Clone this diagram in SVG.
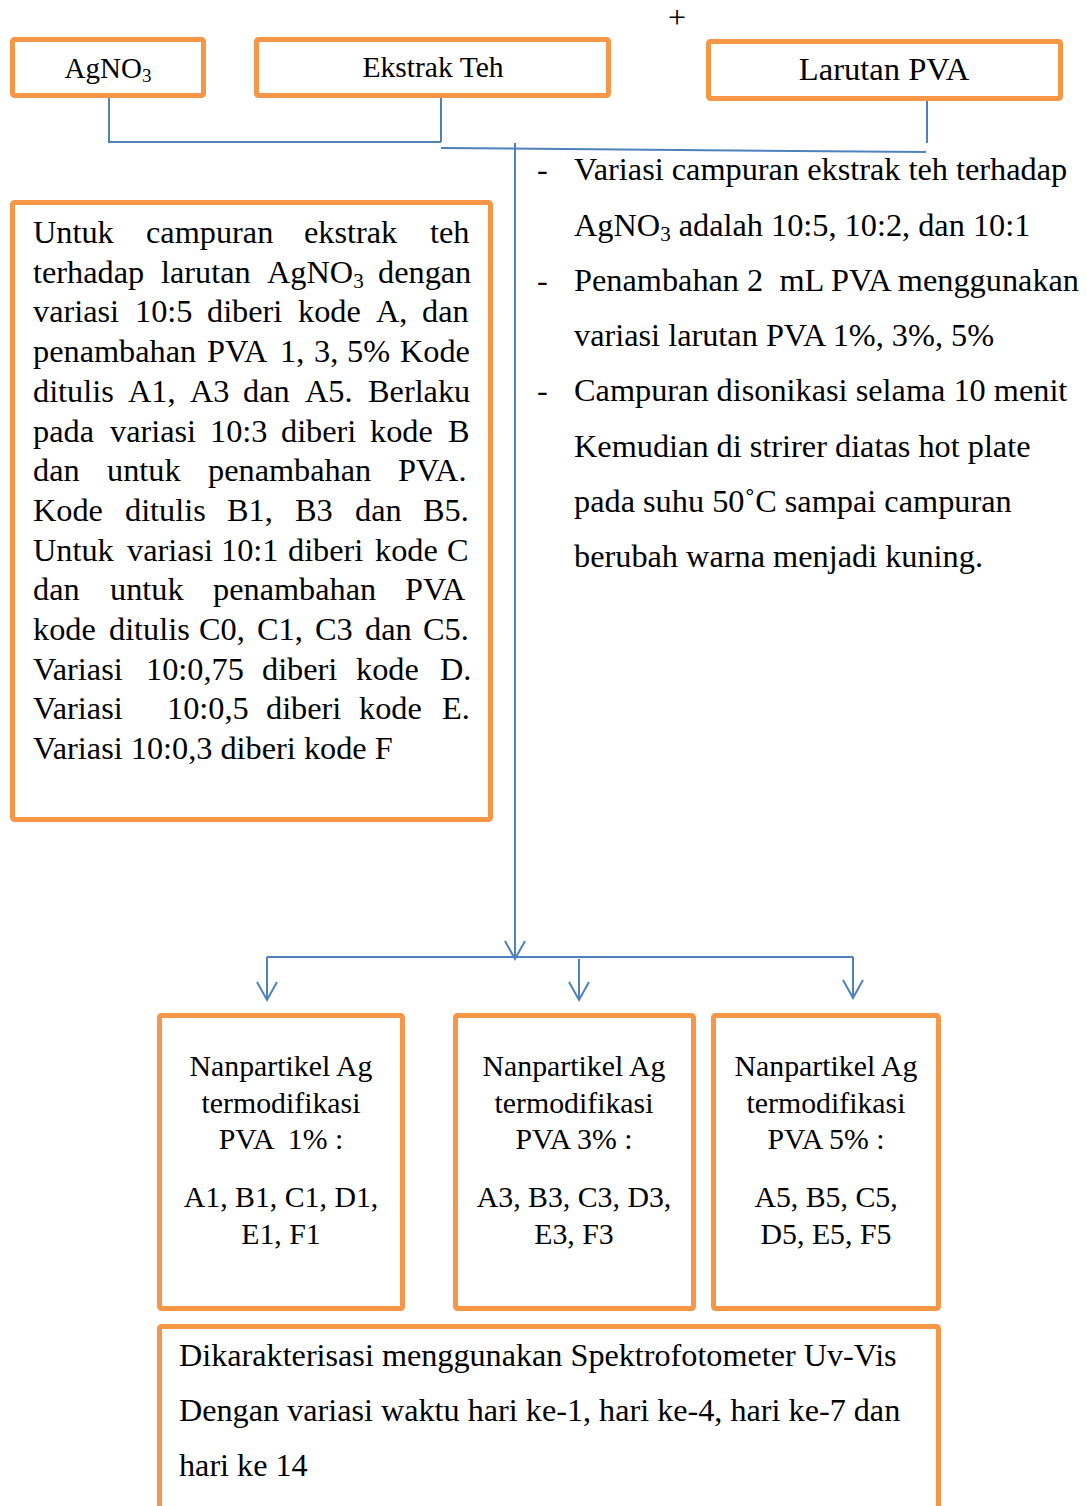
<svg xmlns="http://www.w3.org/2000/svg" width="1087" height="1506" viewBox="0 0 1087 1506">
<style>
.box{fill:#fff;stroke:#F79646;stroke-width:5;}
.t{font-family:"Liberation Serif","Times New Roman",serif;fill:#000;}
.c{text-anchor:middle;}
.ln{fill:none;stroke:#4F81BD;stroke-width:2;}
.ah{fill:none;stroke:#4F81BD;stroke-width:2;}
</style>
<rect width="1087" height="1506" fill="#fff"/>
<text class="t" x="677" y="28" font-size="32" text-anchor="middle">+</text>

<g id="connectors">
<polyline class="ln" points="109,97 109,142 441,142"/>
<line class="ln" x1="441" y1="97" x2="441" y2="142"/>
<line class="ln" x1="441" y1="148" x2="926" y2="152"/>
<line class="ln" x1="927" y1="100" x2="927" y2="143"/>
<line class="ln" x1="515" y1="143" x2="515" y2="958"/>
<path class="ah" d="M505,941 L515,959 L525,941"/>
<line class="ln" x1="267" y1="957" x2="853" y2="957"/>
<line class="ln" x1="267" y1="957" x2="267" y2="1000"/>
<path class="ah" d="M257,982 L267,1000 L277,982"/>
<line class="ln" x1="579" y1="959" x2="579" y2="1000"/>
<path class="ah" d="M569,982 L579,1000 L589,982"/>
<line class="ln" x1="853" y1="957" x2="853" y2="998"/>
<path class="ah" d="M843,980 L853,998 L863,980"/>
</g>

<g id="agno3">
<rect class="box" x="12.5" y="39.5" width="191" height="56" rx="2"/>
<text class="t c" x="108" y="78" font-size="29">AgNO<tspan font-size="19" dy="4">3</tspan></text>
</g>
<g id="ekstrak-teh">
<rect class="box" x="256.5" y="39.5" width="352" height="56" rx="2"/>
<text class="t c" x="433" y="77" font-size="29.6">Ekstrak Teh</text>
</g>
<g id="larutan-pva">
<rect class="box" x="708.5" y="41.5" width="352" height="57" rx="2"/>
<text class="t c" x="884" y="80" font-size="32.6">Larutan PVA</text>
</g>

<g id="keterangan">
<rect class="box" x="12.5" y="202.5" width="478" height="617" rx="2"/>
<text class="t" font-size="32.3">
<tspan y="243" x="33">Untuk</tspan><tspan x="146">campuran</tspan><tspan x="304">ekstrak</tspan><tspan x="430">teh</tspan>
<tspan y="282.7" x="33">terhadap</tspan><tspan x="161">larutan</tspan><tspan x="267">AgNO</tspan><tspan font-size="21" dy="5">3</tspan><tspan x="378" dy="-5">dengan</tspan>
<tspan y="322.4" x="33">variasi</tspan><tspan x="135">10:5</tspan><tspan x="207">diberi</tspan><tspan x="298">kode</tspan><tspan x="376">A,</tspan><tspan x="422">dan</tspan>
<tspan y="362.1" x="33">penambahan</tspan><tspan x="207">PVA</tspan><tspan x="280">1,</tspan><tspan x="314">3,</tspan><tspan x="347">5%</tspan><tspan x="400">Kode</tspan>
<tspan y="401.8" x="33">ditulis</tspan><tspan x="128">A1,</tspan><tspan x="190">A3</tspan><tspan x="243">dan</tspan><tspan x="305">A5.</tspan><tspan x="368">Berlaku</tspan>
<tspan y="441.5" x="33">pada</tspan><tspan x="110">variasi</tspan><tspan x="210">10:3</tspan><tspan x="281">diberi</tspan><tspan x="370">kode</tspan><tspan x="448">B</tspan>
<tspan y="481.2" x="33">dan</tspan><tspan x="107">untuk</tspan><tspan x="208">penambahan</tspan><tspan x="398">PVA.</tspan>
<tspan y="520.9" x="33">Kode</tspan><tspan x="125">ditulis</tspan><tspan x="227">B1,</tspan><tspan x="295">B3</tspan><tspan x="355">dan</tspan><tspan x="423">B5.</tspan>
<tspan y="560.6" x="33">Untuk</tspan><tspan x="127">variasi</tspan><tspan x="221">10:1</tspan><tspan x="288">diberi</tspan><tspan x="375">kode</tspan><tspan x="447">C</tspan>
<tspan y="600.3" x="33">dan</tspan><tspan x="110">untuk</tspan><tspan x="213">penambahan</tspan><tspan x="405">PVA</tspan>
<tspan y="640" x="33">kode</tspan><tspan x="109">ditulis</tspan><tspan x="199">C0,</tspan><tspan x="257">C1,</tspan><tspan x="315">C3</tspan><tspan x="365">dan</tspan><tspan x="423">C5.</tspan>
<tspan y="679.7" x="33">Variasi</tspan><tspan x="146">10:0,75</tspan><tspan x="262">diberi</tspan><tspan x="356">kode</tspan><tspan x="440">D.</tspan>
<tspan y="719.4" x="33">Variasi</tspan><tspan x="167">10:0,5</tspan><tspan x="266">diberi</tspan><tspan x="359">kode</tspan><tspan x="442">E.</tspan>
<tspan y="759.1" x="33">Variasi 10:0,3 diberi kode F</tspan>
</text>
</g>

<g id="proses">
<text class="t" font-size="32.3" xml:space="preserve">
<tspan x="537" y="180">-</tspan><tspan x="574" y="180">Variasi campuran ekstrak teh terhadap</tspan>
<tspan x="574" y="236">AgNO<tspan font-size="21" dy="5">3</tspan><tspan dy="-5"> adalah 10:5, 10:2, dan 10:1</tspan></tspan>
<tspan x="537" y="291">-</tspan><tspan x="574" y="291">Penambahan 2  mL PVA menggunakan</tspan>
<tspan x="574" y="346">variasi larutan PVA 1%, 3%, 5%</tspan>
<tspan x="537" y="401">-</tspan><tspan x="574" y="401">Campuran disonikasi selama 10 menit</tspan>
<tspan x="574" y="457">Kemudian di strirer diatas hot plate</tspan>
<tspan x="574" y="512">pada suhu 50˚C sampai campuran</tspan>
<tspan x="574" y="567">berubah warna menjadi kuning.</tspan>
</text>
</g>

<g id="pva1">
<rect class="box" x="159.5" y="1015.5" width="243" height="293" rx="2"/>
<text class="t c" font-size="29.8" xml:space="preserve"><tspan x="281" y="1076">Nanpartikel Ag</tspan><tspan x="281" y="1113">termodifikasi</tspan><tspan x="281" y="1149">PVA  1% :</tspan><tspan x="281" y="1207">A1, B1, C1, D1,</tspan><tspan x="281" y="1244">E1, F1</tspan></text>
</g>
<g id="pva3">
<rect class="box" x="455.5" y="1015.5" width="238" height="293" rx="2"/>
<text class="t c" font-size="29.8"><tspan x="574" y="1076">Nanpartikel Ag</tspan><tspan x="574" y="1113">termodifikasi</tspan><tspan x="574" y="1149">PVA 3% :</tspan><tspan x="574" y="1207">A3, B3, C3, D3,</tspan><tspan x="574" y="1244">E3, F3</tspan></text>
</g>
<g id="pva5">
<rect class="box" x="713.5" y="1015.5" width="225" height="293" rx="2"/>
<text class="t c" font-size="29.8"><tspan x="826" y="1076">Nanpartikel Ag</tspan><tspan x="826" y="1113">termodifikasi</tspan><tspan x="826" y="1149">PVA 5% :</tspan><tspan x="826" y="1207">A5, B5, C5,</tspan><tspan x="826" y="1244">D5, E5, F5</tspan></text>
</g>
<g id="karakterisasi">
<rect class="box" x="159.5" y="1326.5" width="779" height="200" rx="2"/>
<text class="t" font-size="32.2"><tspan x="179" y="1366">Dikarakterisasi menggunakan Spektrofotometer Uv-Vis</tspan><tspan x="179" y="1421">Dengan variasi waktu hari ke-1, hari ke-4, hari ke-7 dan</tspan><tspan x="179" y="1476">hari ke 14</tspan></text>
</g>
</svg>
